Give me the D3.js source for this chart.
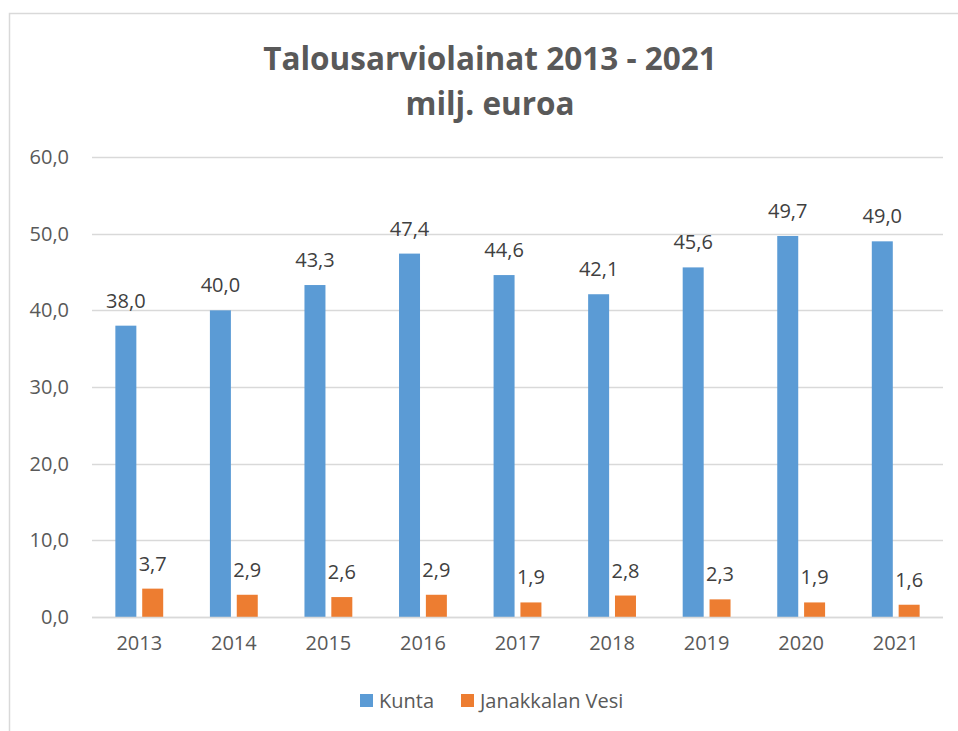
<!DOCTYPE html>
<html>
<head>
<meta charset="utf-8">
<script src="https://cdn.jsdelivr.net/npm/d3@7"></script>
<style>
  html, body { margin: 0; padding: 0; background: #fff; }
  svg { display: block; }
</style>
</head>
<body>
<svg id="chart" width="958" height="731"></svg>
<script>
const years = ["2013","2014","2015","2016","2017","2018","2019","2020","2021"];
const kunta = [38.0, 40.0, 43.3, 47.4, 44.6, 42.1, 45.6, 49.7, 49.0];
const vesi = [3.7, 2.9, 2.6, 2.9, 1.9, 2.8, 2.3, 1.9, 1.6];
const seriesNames = ["Kunta", "Janakkalan Vesi"];
const yTicks = [0, 10, 20, 30, 40, 50, 60];
const titleLines = ["Talousarviolainat 2013 - 2021", "milj. euroa"];

(function () {
const colors = ["#5B9BD5", "#ED7D31"];
const fmt = v => v.toFixed(1).replace(".", ",");
const font = "'Open Sans', 'DejaVu Sans', sans-serif";
const fs = 20;

const svg = d3.select("#chart");
svg.append("rect").attr("x", 9.5).attr("y", 13.5).attr("width", 970).attr("height", 740)
  .attr("fill", "#fff").attr("stroke", "#d9d9d9").attr("stroke-width", 1.5);

const pLeft = 92, pRight = 943, pTop = 157, pBottom = 617;
const x = d3.scaleBand().domain(years).range([pLeft, pRight]).paddingInner(0).paddingOuter(0);
const y = d3.scaleLinear().domain([0, 60]).range([pBottom, pTop]);

// gridlines
svg.append("g").selectAll("line").data(yTicks).join("line")
  .attr("x1", pLeft).attr("x2", pRight)
  .attr("y1", d => Math.round(y(d)) + 0.5).attr("y2", d => Math.round(y(d)) + 0.5)
  .attr("stroke", "#d9d9d9").attr("stroke-width", 1.5);

// y axis labels
const yAxis = d3.axisLeft(y).tickValues(yTicks).tickFormat(fmt).tickSize(0).tickPadding(23);
const gy = svg.append("g").attr("transform", `translate(${pLeft},0)`).call(yAxis);
gy.select(".domain").remove();
gy.selectAll("text").attr("font-family", font).attr("font-size", fs).attr("fill", "#595959");

// x axis labels
const xAxis = d3.axisBottom(x).tickSize(0).tickPadding(19);
const gx = svg.append("g").attr("transform", `translate(0,${pBottom})`).call(xAxis);
gx.select(".domain").remove();
gx.selectAll("text").attr("font-family", font).attr("font-size", fs).attr("fill", "#595959");

// bars
const bw = x.bandwidth() * 0.222;
const gap = x.bandwidth() * 0.062;
const groupW = 2 * bw + gap;
const data = [kunta, vesi];
data.forEach((vals, si) => {
  const off = (x.bandwidth() - groupW) / 2 + si * (bw + gap);
  const g = svg.append("g");
  g.selectAll("rect").data(vals).join("rect")
    .attr("x", (d, i) => x(years[i]) + off)
    .attr("y", d => y(d))
    .attr("width", bw)
    .attr("height", d => y(0) - y(d))
    .attr("fill", colors[si]);
  g.selectAll("text").data(vals).join("text")
    .attr("x", (d, i) => x(years[i]) + off + bw / 2)
    .attr("y", d => y(d) - 18)
    .attr("text-anchor", "middle")
    .attr("font-family", font).attr("font-size", fs).attr("fill", "#404040")
    .text(fmt);
});

// baseline
svg.append("line").attr("x1", pLeft).attr("x2", pRight)
  .attr("y1", Math.round(y(0)) + 0.5).attr("y2", Math.round(y(0)) + 0.5)
  .attr("stroke", "#d9d9d9").attr("stroke-width", 1.5);

// title
svg.append("g").selectAll("text").data(titleLines).join("text")
  .attr("x", 490).attr("y", (d, i) => 70 + i * 45)
  .attr("text-anchor", "middle")
  .attr("font-family", "'Liberation Sans Narrow', 'Open Sans', sans-serif")
  .attr("font-weight", "bold").attr("font-size", 31.5).attr("fill", "#595959")
  .text(d => d);

// legend
const legendX = [360, 461];
const lg = svg.append("g");
seriesNames.forEach((n, i) => {
  lg.append("rect").attr("x", legendX[i]).attr("y", 694).attr("width", 13).attr("height", 13).attr("fill", colors[i]);
  lg.append("text").attr("x", legendX[i] + 19).attr("y", 708)
    .attr("font-family", font).attr("font-size", fs).attr("fill", "#595959").text(n);
});
})();
</script>
</body>
</html>
